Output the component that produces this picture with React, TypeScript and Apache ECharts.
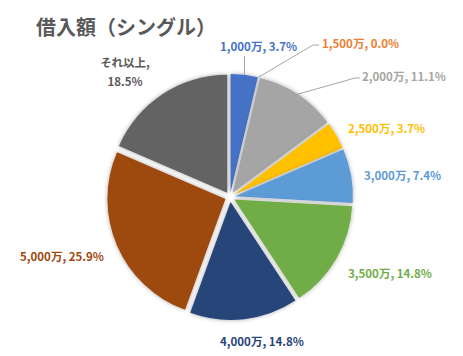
import React, { useEffect, useRef } from 'react';
import * as echarts from 'echarts';

const titleText = '借入額（シングル）';
const categories = ['1,000万', '1,500万', '2,000万', '2,500万', '3,000万', '3,500万', '4,000万', '5,000万', 'それ以上'];
const counts = [1, 0, 3, 1, 2, 4, 4, 7, 5];
const sliceColors = ['#4472C4', '#ED7D31', '#A5A5A5', '#FFC000', '#5B9BD5', '#70AD47', '#264478', '#9E480E', '#636363'];
const labelColors = ['#4472C4', '#ED7D31', '#A5A5A5', '#FFC000', '#5B9BD5', '#70AD47', '#264478', '#9E480E', '#595959'];
// label anchor positions [x, y, align]
const labelPos: [number, number, string][] = [
  [220, 46, 'left'],
  [322, 43, 'left'],
  [362, 76, 'left'],
  [348, 128, 'left'],
  [364, 175, 'left'],
  [348, 273, 'left'],
  [220, 341, 'left'],
  [20, 256, 'left'],
  [125, 71, 'center'],
];
// leader line label-end points (x = 0 means: same x as the slice point; null = no leader)
const leaderEnds: ([number, number][] | null)[] = [
  [[0, 62], [0, 56]],
  [[313, 45], [319, 45]],
  [[355, 78], [360, 78]],
  null, null, null, null, null, null,
];

const CX = 230;
const CY = 197;
const R = 118;
const OFFSET = 5;

export default function App() {
  const ref = useRef<HTMLDivElement>(null);
  useEffect(() => {
    if (!ref.current) return;
    const chart = echarts.init(ref.current, undefined, { renderer: 'svg' });
    const total = counts.reduce((a, b) => a + b, 0);
    const font = '"Noto Sans CJK JP", "Noto Sans", sans-serif';
    const bisector: number[] = [];
    let acc = 0;
    counts.forEach((v) => {
      bisector.push(((acc + v / 2) / total) * Math.PI * 2);
      acc += v;
    });
    const arcPoint = (i: number) => {
      const r = R + OFFSET;
      return [CX + r * Math.sin(bisector[i]), CY - r * Math.cos(bisector[i])];
    };
    const leaderPoints = (i: number) => {
      const ends = leaderEnds[i];
      if (!ends) return null;
      const a = arcPoint(i);
      return [a, ...ends.map((e) => [e[0] === 0 ? a[0] : e[0], e[1]])];
    };
    const p0 = leaderPoints(0) as number[][];
    const x0 = Math.round(p0[0][0]) + 0.5;
    const common = {
      type: 'pie',
      silent: true,
      center: [CX, CY],
      startAngle: 90,
      clockwise: true,
      avoidLabelOverlap: false,
      emphasis: { disabled: true },
    };
    chart.setOption({
      animation: false,
      backgroundColor: '#ffffff',
      title: {
        text: titleText,
        left: 31,
        top: 11,
        textStyle: { fontFamily: font, fontSize: 20, fontWeight: 'bold', color: '#595959' },
      },
      graphic: [
        {
          type: 'line',
          silent: true,
          z: 100,
          shape: { x1: x0, y1: p0[0][1], x2: x0, y2: p0[2][1] },
          style: { stroke: '#A6A6A6', lineWidth: 1 },
        },
      ],
      series: [
        {
          ...common,
          radius: R,
          selectedMode: 'multiple',
          selectedOffset: OFFSET,
          itemStyle: { shadowBlur: 4, shadowColor: 'rgba(0,0,0,0.35)' },
          label: { show: false },
          labelLine: { show: false },
          data: categories.map((name, i) => ({
            name,
            value: counts[i],
            selected: true,
            itemStyle: { color: sliceColors[i] },
          })),
        },
        {
          ...common,
          radius: R + OFFSET,
          itemStyle: { color: 'rgba(0,0,0,0)' },
          label: {
            show: true,
            position: 'outside',
            fontFamily: font,
            fontSize: 11.5,
            fontWeight: 'bold',
            lineHeight: 19,
            formatter: (p: any) => {
              const pct = ((counts[p.dataIndex] / total) * 100).toFixed(1);
              return p.dataIndex === 8 ? `${p.name},\n${pct}%` : `${p.name}, ${pct}%`;
            },
          },
          labelLine: { show: false, lineStyle: { color: '#A6A6A6', width: 1 } },
          labelLayout: (params: any) => {
            const i = params.dataIndex;
            const pos = labelPos[i];
            const res: any = { x: pos[0], y: pos[1], align: pos[2], verticalAlign: 'middle' };
            const pts = i === 0 ? null : leaderPoints(i);
            if (pts) res.labelLinePoints = pts;
            return res;
          },
          data: categories.map((name, i) => ({
            name,
            value: counts[i],
            label: { color: labelColors[i] },
            labelLine: { show: i !== 0 && leaderEnds[i] !== null },
          })),
        },
      ],
    });
    return () => chart.dispose();
  }, []);
  return <div ref={ref} style={{ position: 'fixed', left: 0, top: 0, width: 463, height: 356 }} />;
}
